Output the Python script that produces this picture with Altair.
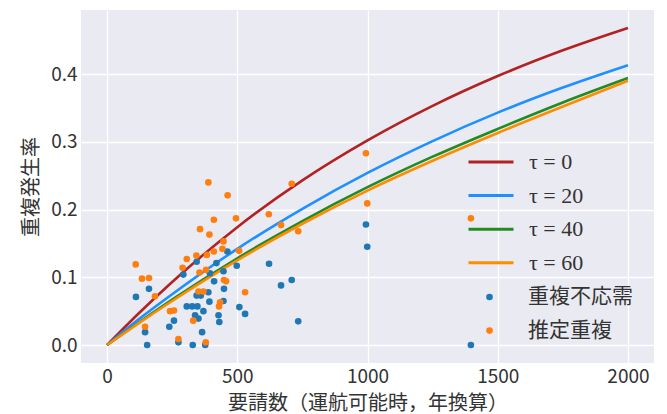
import altair as alt
import pandas as pd

# ---- model curves ----
curve_x = [0, 125, 250, 500, 750, 1000, 1250, 1500, 1750, 2000]
tau0 = [0.0, 0.048, 0.093, 0.174, 0.243, 0.302, 0.353, 0.397, 0.435, 0.468]
tau20 = [0.0, 0.039, 0.075, 0.142, 0.201, 0.254, 0.301, 0.343, 0.380, 0.413]
tau40 = [0.0, 0.034, 0.067, 0.128, 0.183, 0.233, 0.278, 0.319, 0.358, 0.394]
tau60 = [0.0, 0.033, 0.065, 0.125, 0.179, 0.228, 0.272, 0.313, 0.352, 0.390]
tau_labels = ["τ = 0", "τ = 20", "τ = 40", "τ = 60"]
tau_colors = ["#B22222", "#1E90FF", "#228B22", "#FF8C00"]

# ---- observed points ----
blue_x = [111, 161, 146, 154, 239, 257, 274, 329, 377, 365, 293, 344, 306, 327, 347,
          338, 351, 370, 393, 389, 411, 344, 360, 449, 447, 428, 431, 447, 498, 508,
          530, 622, 668, 709, 734, 994, 999, 1397, 462, 395, 420]
blue_y = [0.071, 0.083, 0.019, 0.0, 0.027, 0.036, 0.004, 0.0, 0.0, 0.019, 0.104, 0.123,
          0.057, 0.057, 0.057, 0.044, 0.039, 0.050, 0.064, 0.078, 0.094, 0.073, 0.073,
          0.083, 0.065, 0.044, 0.034, 0.109, 0.117, 0.056, 0.046, 0.120, 0.088, 0.096,
          0.035, 0.178, 0.145, 0.0, 0.138, 0.106, 0.121]
orange_x = [110, 134, 161, 184, 146, 274, 379, 242, 257, 331, 389, 463, 410, 357, 393,
            495, 447, 443, 410, 383, 343, 306, 290, 507, 351, 370, 355, 380, 430, 434,
            449, 457, 530, 621, 668, 709, 734, 994, 999, 1397]
orange_y = [0.119, 0.098, 0.099, 0.072, 0.027, 0.009, 0.004, 0.050, 0.051, 0.036, 0.240,
            0.221, 0.185, 0.171, 0.163, 0.187, 0.153, 0.142, 0.138, 0.133, 0.132, 0.127,
            0.114, 0.139, 0.079, 0.079, 0.107, 0.111, 0.057, 0.063, 0.096, 0.094, 0.078,
            0.193, 0.177, 0.238, 0.168, 0.283, 0.209, 0.187]
point_labels = ["重複不応需", "推定重複"]
point_colors = ["#1F77B4", "#FF7F0E"]

curves = pd.DataFrame(
    [{"x": x, "y": y, "tau": lab, "order": i}
     for i, (lab, ys) in enumerate(zip(tau_labels, [tau0, tau20, tau40, tau60]))
     for x, y in zip(curve_x, ys)]
)
points = pd.DataFrame(
    [{"x": x, "y": y, "kind": point_labels[0]} for x, y in zip(blue_x, blue_y)]
    + [{"x": x, "y": y, "kind": point_labels[1]} for x, y in zip(orange_x, orange_y)]
)

FONT = "Noto Sans CJK JP"
xs = alt.Scale(domain=[-100, 2100], nice=False, zero=False)
ys = alt.Scale(domain=[-0.0265, 0.4945], nice=False, zero=False)

xax = alt.Axis(values=[0, 500, 1000, 1500, 2000], title="要請数（運航可能時，年換算）",
               format="d")
yax = alt.Axis(values=[0.0, 0.1, 0.2, 0.3, 0.4], title="重複発生率", format=".1f")

lines = alt.Chart(curves).mark_line(strokeWidth=2.6, interpolate="monotone").encode(
    x=alt.X("x:Q", scale=xs, axis=xax),
    y=alt.Y("y:Q", scale=ys, axis=yax),
    stroke=alt.Stroke("tau:N", scale=alt.Scale(domain=tau_labels, range=tau_colors),
                      sort=tau_labels,
                      legend=alt.Legend(title=None, orient="none", legendX=386, legendY=141,
                                        symbolType="stroke", symbolSize=2025,
                                        symbolStrokeWidth=3, labelFont="Liberation Serif",
                                        labelFontSize=22, labelOffset=14, clipHeight=22,
                                        rowPadding=11.6, padding=0, labelColor="#333333")),
    detail="tau:N",
    order="order:Q",
)

dots = alt.Chart(points).mark_circle(size=44, opacity=1).encode(
    x=alt.X("x:Q", scale=xs),
    y=alt.Y("y:Q", scale=ys),
    fill=alt.Fill("kind:N", scale=alt.Scale(domain=point_labels, range=point_colors),
                  sort=point_labels,
                  legend=alt.Legend(title=None, orient="none", legendX=398, legendY=276,
                                    symbolType="circle", symbolSize=44, symbolStrokeWidth=0,
                                    labelFont=FONT, labelFontSize=21, labelOffset=28,
                                    clipHeight=22, rowPadding=11.6, padding=0,
                                    labelColor="#333333")),
)

chart = alt.layer(lines, dots).resolve_legend(stroke="independent", fill="independent").properties(
    width=573, height=353,
    autosize=alt.AutoSizeParams(type="none"),
    padding={"left": 81, "top": 10, "right": 13, "bottom": 51},
    background="white",
).configure_view(fill="#EAEAF2", stroke=None).configure_axis(
    domain=False, ticks=False, tickSize=0, grid=True, gridColor="white", gridWidth=1.3,
    labelFont=FONT, labelFontSize=19, labelColor="#333333", labelPadding=4,
    titleFont=FONT, titleFontSize=20, titleColor="#333333", titleFontWeight="normal",
).configure_axisX(titlePadding=7).configure_axisY(titlePadding=9)

chart.save("out.html", embed_options={"renderer": "svg", "actions": False})
